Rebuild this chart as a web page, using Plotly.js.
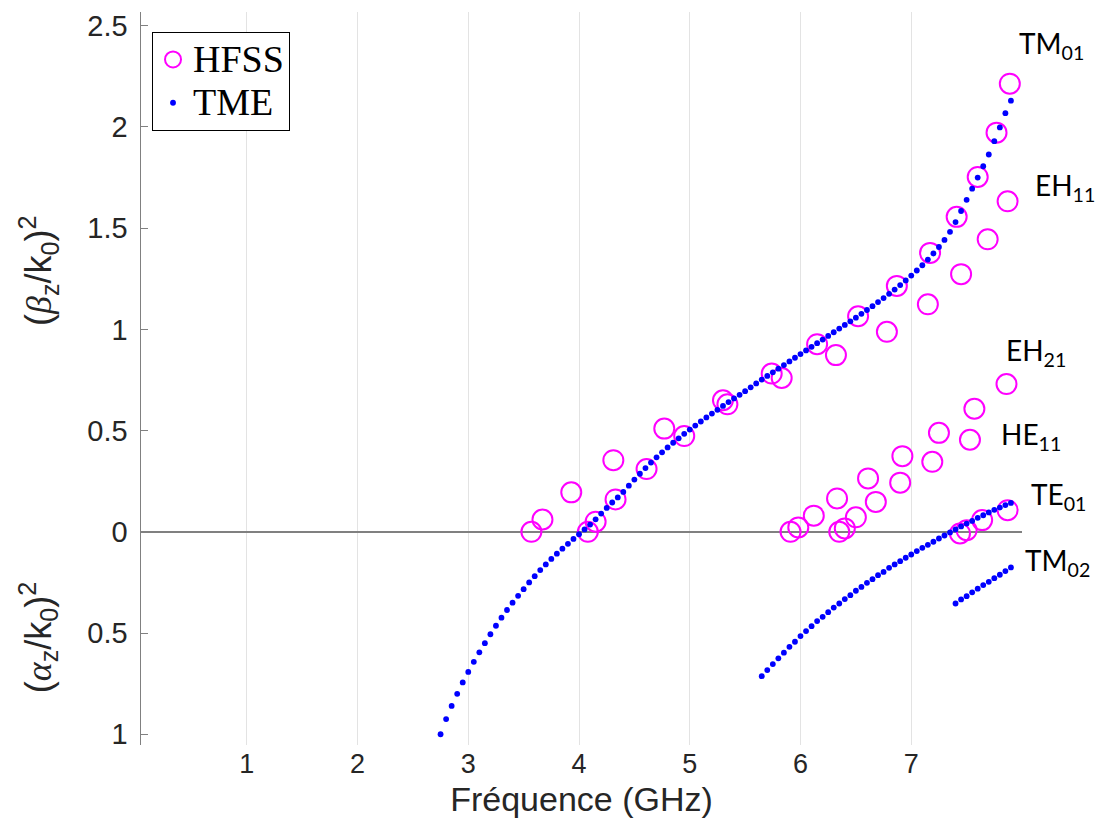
<!DOCTYPE html>
<html>
<head>
<meta charset="utf-8">
<script src="https://cdn.plot.ly/plotly-3.0.1.min.js"></script>
<style>html,body{margin:0;padding:0;background:#fff;}#chart{width:1102px;height:830px;}</style>
</head>
<body>
<div id="chart"></div>
<script>
// TME — TM01 branch
var tm01F = [2.75,2.80,2.85,2.90,2.95,3.00,3.05,3.10,3.15,3.20,3.25,3.30,3.35,3.40,3.45,3.50,3.55,3.60,3.65,3.70,3.75,3.80,3.85,3.90,3.95,
  4.00,4.05,4.10,4.15,4.20,4.25,4.30,4.35,4.40,4.45,4.50,4.55,4.60,4.65,4.70,4.75,4.80,4.85,4.90,4.95,
  5.00,5.05,5.10,5.15,5.20,5.25,5.30,5.35,5.40,5.45,5.50,5.55,5.60,5.65,5.70,5.75,5.80,5.85,5.90,5.95,
  6.00,6.05,6.10,6.15,6.20,6.25,6.30,6.35,6.40,6.45,6.50,6.55,6.60,6.65,6.70,6.75,6.80,6.85,6.90,6.95,
  7.00,7.05,7.10,7.15,7.20,7.25,7.30,7.35,7.40,7.45,7.50,7.55,7.60,7.65,7.70,7.75,7.80,7.85,7.90];
var tm01Y = [-1.000,-0.925,-0.860,-0.800,-0.744,-0.692,-0.642,-0.595,-0.550,-0.506,-0.464,-0.424,-0.386,-0.350,-0.316,-0.283,-0.250,-0.219,-0.189,-0.161,-0.134,-0.108,-0.083,-0.059,-0.035,
  -0.012,0.012,0.036,0.062,0.090,0.118,0.145,0.170,0.197,0.228,0.258,0.287,0.315,0.342,0.368,0.393,0.417,0.440,0.462,0.484,
  0.505,0.525,0.545,0.565,0.584,0.603,0.622,0.641,0.659,0.677,0.695,0.714,0.733,0.752,0.770,0.788,0.806,0.824,0.842,0.860,
  0.878,0.896,0.914,0.932,0.950,0.968,0.986,1.004,1.022,1.040,1.058,1.077,1.096,1.115,1.135,1.155,1.176,1.197,1.219,1.242,
  1.266,1.291,1.317,1.345,1.375,1.407,1.442,1.482,1.530,1.585,1.640,1.695,1.750,1.806,1.864,1.930,1.998,2.068,2.130];

// TME — TE01 branch
var te01F = [5.65,5.70,5.75,5.80,5.85,5.90,5.95,6.00,6.05,6.10,6.15,6.20,6.25,6.30,6.35,6.40,6.45,6.50,6.55,6.60,6.65,6.70,6.75,
  6.80,6.85,6.90,6.95,7.00,7.05,7.10,7.15,7.20,7.25,7.30,7.35,7.40,7.45,7.50,7.55,7.60,7.65,7.70,7.75,7.80,7.85,7.90];
var te01Y = [-0.713,-0.683,-0.653,-0.625,-0.597,-0.568,-0.543,-0.515,-0.490,-0.466,-0.441,-0.420,-0.397,-0.374,-0.354,-0.332,-0.313,-0.291,-0.272,-0.252,-0.234,-0.214,-0.198,
  -0.178,-0.161,-0.145,-0.128,-0.112,-0.095,-0.079,-0.064,-0.049,-0.033,-0.018,-0.003,0.012,0.027,0.041,0.054,0.069,0.082,0.096,0.109,0.120,0.132,0.143];

// TME — TM02 branch
var tm02F = [7.40,7.45,7.50,7.55,7.60,7.65,7.70,7.75,7.80,7.85,7.90];
var tm02Y = [-0.354,-0.334,-0.318,-0.299,-0.281,-0.263,-0.247,-0.229,-0.212,-0.194,-0.176];

// HFSS simulated points
var hfssF = [3.57,3.67,3.93,4.08,4.15,4.31,4.33,4.61,4.77,4.95,5.30,5.34,5.74,5.83,6.15,6.32,6.52,6.78,6.87,7.15,7.17,7.41,7.45,7.60,7.69,7.77,7.87,7.89,
  7.86,7.57,7.25,7.53,6.92,7.19,6.61,6.90,6.33,6.68,6.12,6.50,5.91,5.98,6.35,6.40,7.44,7.50,7.64,7.87];
var hfssY = [0.000,0.061,0.195,0.000,0.050,0.354,0.160,0.310,0.510,0.473,0.650,0.630,0.782,0.760,0.927,0.873,1.065,0.988,1.215,1.124,1.378,1.556,1.273,1.753,1.445,1.972,1.633,2.214,
  0.730,0.608,0.489,0.455,0.374,0.346,0.264,0.243,0.165,0.148,0.080,0.072,0.000,0.022,0.000,0.017,-0.008,0.008,0.058,0.107];

// Mode labels (text)
var modeText = ['TM<sub>01</sub>','EH<sub>11</sub>','EH<sub>21</sub>','HE<sub>11</sub>','TE<sub>01</sub>','TM<sub>02</sub>'];

// Axis ticks
var xTickVals = [1,2,3,4,5,6,7];
var yTickVals = [-1,-0.5,0,0.5,1,1.5,2,2.5];
var yTickText = ['1','0.5','0','0.5','1','1.5','2','2.5'];

// label placement (paper coordinates, layout only)
var labelPos = [[0.9943,0.9550],[1.0125,0.7613],[0.9796,0.5361],[0.9739,0.4216],[1.0079,0.3400],[1.0011,0.2497]];

var dot = {symbol:'circle', size:5.8, color:'#0000ff'};
var big = function (s) { return '<span style="font-size:38px">' + s + '</span>'; };
var traces = [
  {x:hfssF, y:hfssY, mode:'markers', type:'scatter', name:big('HFSS'),
   marker:{symbol:'circle-open', size:20, color:'#ff00ff', line:{width:2, color:'#ff00ff'}}},
  {x:tm01F, y:tm01Y, mode:'markers', type:'scatter', name:big('TME'), legendgroup:'tme', marker:dot},
  {x:te01F, y:te01Y, mode:'markers', type:'scatter', name:'TME', legendgroup:'tme', showlegend:false, marker:dot},
  {x:tm02F, y:tm02Y, mode:'markers', type:'scatter', name:'TME', legendgroup:'tme', showlegend:false, marker:dot}
];

var annotations = [];
for (var i = 0; i < modeText.length; i++) {
  annotations.push({x:labelPos[i][0], y:labelPos[i][1], xref:'paper', yref:'paper', text:modeText[i], showarrow:false,
    xanchor:'left', yanchor:'middle', font:{family:'Lato, Open Sans, sans-serif', size:28, color:'#000'}});
}
var serifB = '<span style="font-family:Liberation Serif;font-style:italic">';
annotations.push({xref:'paper', yref:'paper', x:-0.117, y:0.648, textangle:-90, showarrow:false,
  xanchor:'center', yanchor:'middle',
  text:'(' + serifB + 'β</span><sub>z</sub>/k<sub>0</sub>)<sup>2</sup>',
  font:{family:'Liberation Sans, Arial, sans-serif', size:36, color:'#262626'}});
annotations.push({xref:'paper', yref:'paper', x:-0.117, y:0.147, textangle:-90, showarrow:false,
  xanchor:'center', yanchor:'middle',
  text:'(' + serifB + 'α</span><sub>z</sub>/k<sub>0</sub>)<sup>2</sup>',
  font:{family:'Liberation Sans, Arial, sans-serif', size:36, color:'#262626'}});

var layout = {
  width:1102, height:830,
  margin:{l:141, r:80, t:12, b:85},
  paper_bgcolor:'#fff', plot_bgcolor:'#fff',
  showlegend:true,
  legend:{x:0.0125, y:0.973, xanchor:'left', yanchor:'top', bgcolor:'#fff', bordercolor:'#000', borderwidth:1,
    font:{family:'Liberation Serif, Times New Roman, serif', size:31, color:'#000'}, tracegroupgap:0},
  xaxis:{range:[0.045, 8.0], tickvals:xTickVals, ticks:'', showline:false, zeroline:false,
    showgrid:true, gridcolor:'#e3e3e3', gridwidth:1,
    tickfont:{family:'Liberation Sans, Arial, sans-serif', size:27, color:'#262626'},
    ticklabelstandoff:0,
    title:{text:'Fréquence (GHz)', font:{family:'Liberation Sans, Arial, sans-serif', size:34, color:'#262626'}, standoff:9}},
  yaxis:{range:[-1.053, 2.568], tickvals:yTickVals, ticktext:yTickText, ticks:'inside', ticklen:7, tickcolor:'#808080', tickwidth:1,
    showline:true, linecolor:'#808080', linewidth:1.5, showgrid:false,
    zeroline:true, zerolinecolor:'#808080', zerolinewidth:1.5,
    tickfont:{family:'Liberation Sans, Arial, sans-serif', size:29, color:'#262626'},
    ticklabelstandoff:6},
  annotations:annotations
};

Plotly.newPlot('chart', traces, layout, {displayModeBar:false, staticPlot:true});
</script>
</body>
</html>
